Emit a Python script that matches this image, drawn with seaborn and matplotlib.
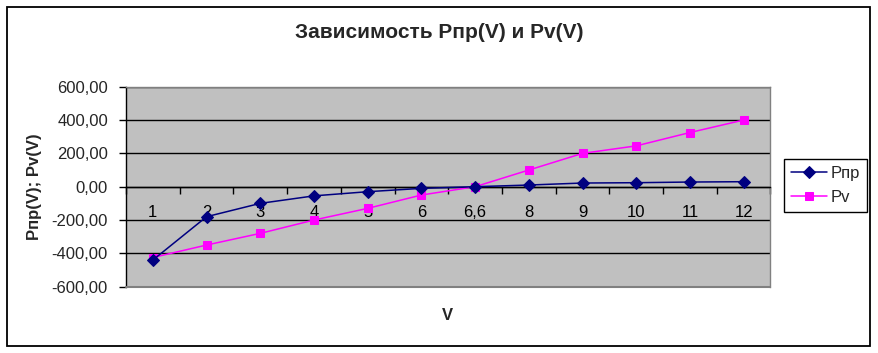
import numpy as np
import pandas as pd
import matplotlib
matplotlib.use('Agg')
import matplotlib.pyplot as plt
import seaborn as sns
from matplotlib.ticker import FuncFormatter
from matplotlib.patches import Rectangle

# data
v_labels = ['1', '2', '3', '4', '5', '6', '6,6', '8', '9', '10', '11', '12']
p_pr = [-440, -180, -100, -55, -30, -10, 0, 10, 22, 24, 28, 30]
p_v = [-425, -350, -280, -200, -130, -50, 0, 100, 200, 245, 325, 400]
y_ticks = [-600, -400, -200, 0, 200, 400, 600]

sns.set_theme(style='white')
plt.rcParams['font.family'] = ['Liberation Sans', 'DejaVu Sans']

W, H = 879, 353
fig = plt.figure(figsize=(W / 100, H / 100), dpi=100)
ax = fig.add_axes([126 / W, 1 - 286.7 / H, 644.5 / W, 200 / H])
ax.set_facecolor('#c0c0c0')

df = pd.DataFrame({'V': v_labels, 'Pпр': p_pr, 'Pv': p_v})

sns.lineplot(data=df, x='V', y='Pпр', ax=ax, sort=False, color='#000080',
             marker='D', markersize=6, markeredgecolor='#000080', linewidth=1.1,
             label='Pпр', zorder=4)
sns.lineplot(data=df, x='V', y='Pv', ax=ax, sort=False, color='#ff00ff',
             marker='s', markersize=6, markeredgecolor='#ff00ff', linewidth=1.1,
             label='Pv', zorder=3)

handles, labels = ax.get_legend_handles_labels()
if ax.get_legend() is not None:
    ax.get_legend().remove()

# axes limits and ticks
ax.set_xlim(-0.5, len(v_labels) - 0.5)
ax.set_ylim(-600, 600)
ax.set_yticks(y_ticks)
ax.yaxis.set_major_formatter(FuncFormatter(lambda v, p: f'{v:.2f}'.replace('.', ',')))
ax.set_xticks(range(len(v_labels)))
ax.set_xticklabels(v_labels)
ax.set_xticks(np.arange(-0.5, len(v_labels), 1), minor=True)

ax.grid(axis='y', color='black', linewidth=1)
ax.grid(axis='x', visible=False)
ax.set_axisbelow(True)

ax.spines['bottom'].set_position(('data', 0))
ax.spines['bottom'].set_color('black')
ax.spines['left'].set_color('black')
ax.spines['top'].set_color('#808080')
ax.spines['right'].set_color('#808080')
for s in ax.spines.values():
    s.set_linewidth(1)
ax.axhline(-600, color='#808080', linewidth=1.5, zorder=5, clip_on=False)

ax.tick_params(axis='x', which='major', length=0, pad=13, labelsize=12, colors='black')
ax.tick_params(axis='x', which='minor', bottom=True, direction='out', length=5, width=1, color='black')
ax.tick_params(axis='y', left=True, direction='out', length=5, width=1, color='black',
               labelsize=12, pad=8)

ax.set_xlabel('')
ax.set_ylabel('')

fig.text(439 / W, 1 - 32 / H, 'Зависимость Pпр(V) и Pv(V)', ha='center', va='center',
         fontsize=15, fontweight='bold')
fig.text(447 / W, 1 - 315 / H, 'V', ha='center', va='center', fontsize=12, fontweight='bold')
fig.text(35 / W, 1 - 187 / H, 'Pпр(V); Pv(V)', ha='center', va='center', rotation=90,
         fontsize=12, fontweight='bold')

leg = fig.legend(handles, labels, loc='upper left', bbox_to_anchor=(784 / W, 1 - 159 / H),
                 frameon=True, fancybox=False, framealpha=1, edgecolor='black',
                 borderaxespad=0, fontsize=12, handlelength=2.2, labelspacing=0.55,
                 borderpad=0.4, handletextpad=0.2)
leg.get_frame().set_linewidth(1)

fig.patches.append(Rectangle((7 / W, 1 - 345.5 / H), 863 / W, 338.5 / H, transform=fig.transFigure,
                             fill=False, edgecolor='black', linewidth=1.3))

fig.savefig('out.png', dpi=100)
